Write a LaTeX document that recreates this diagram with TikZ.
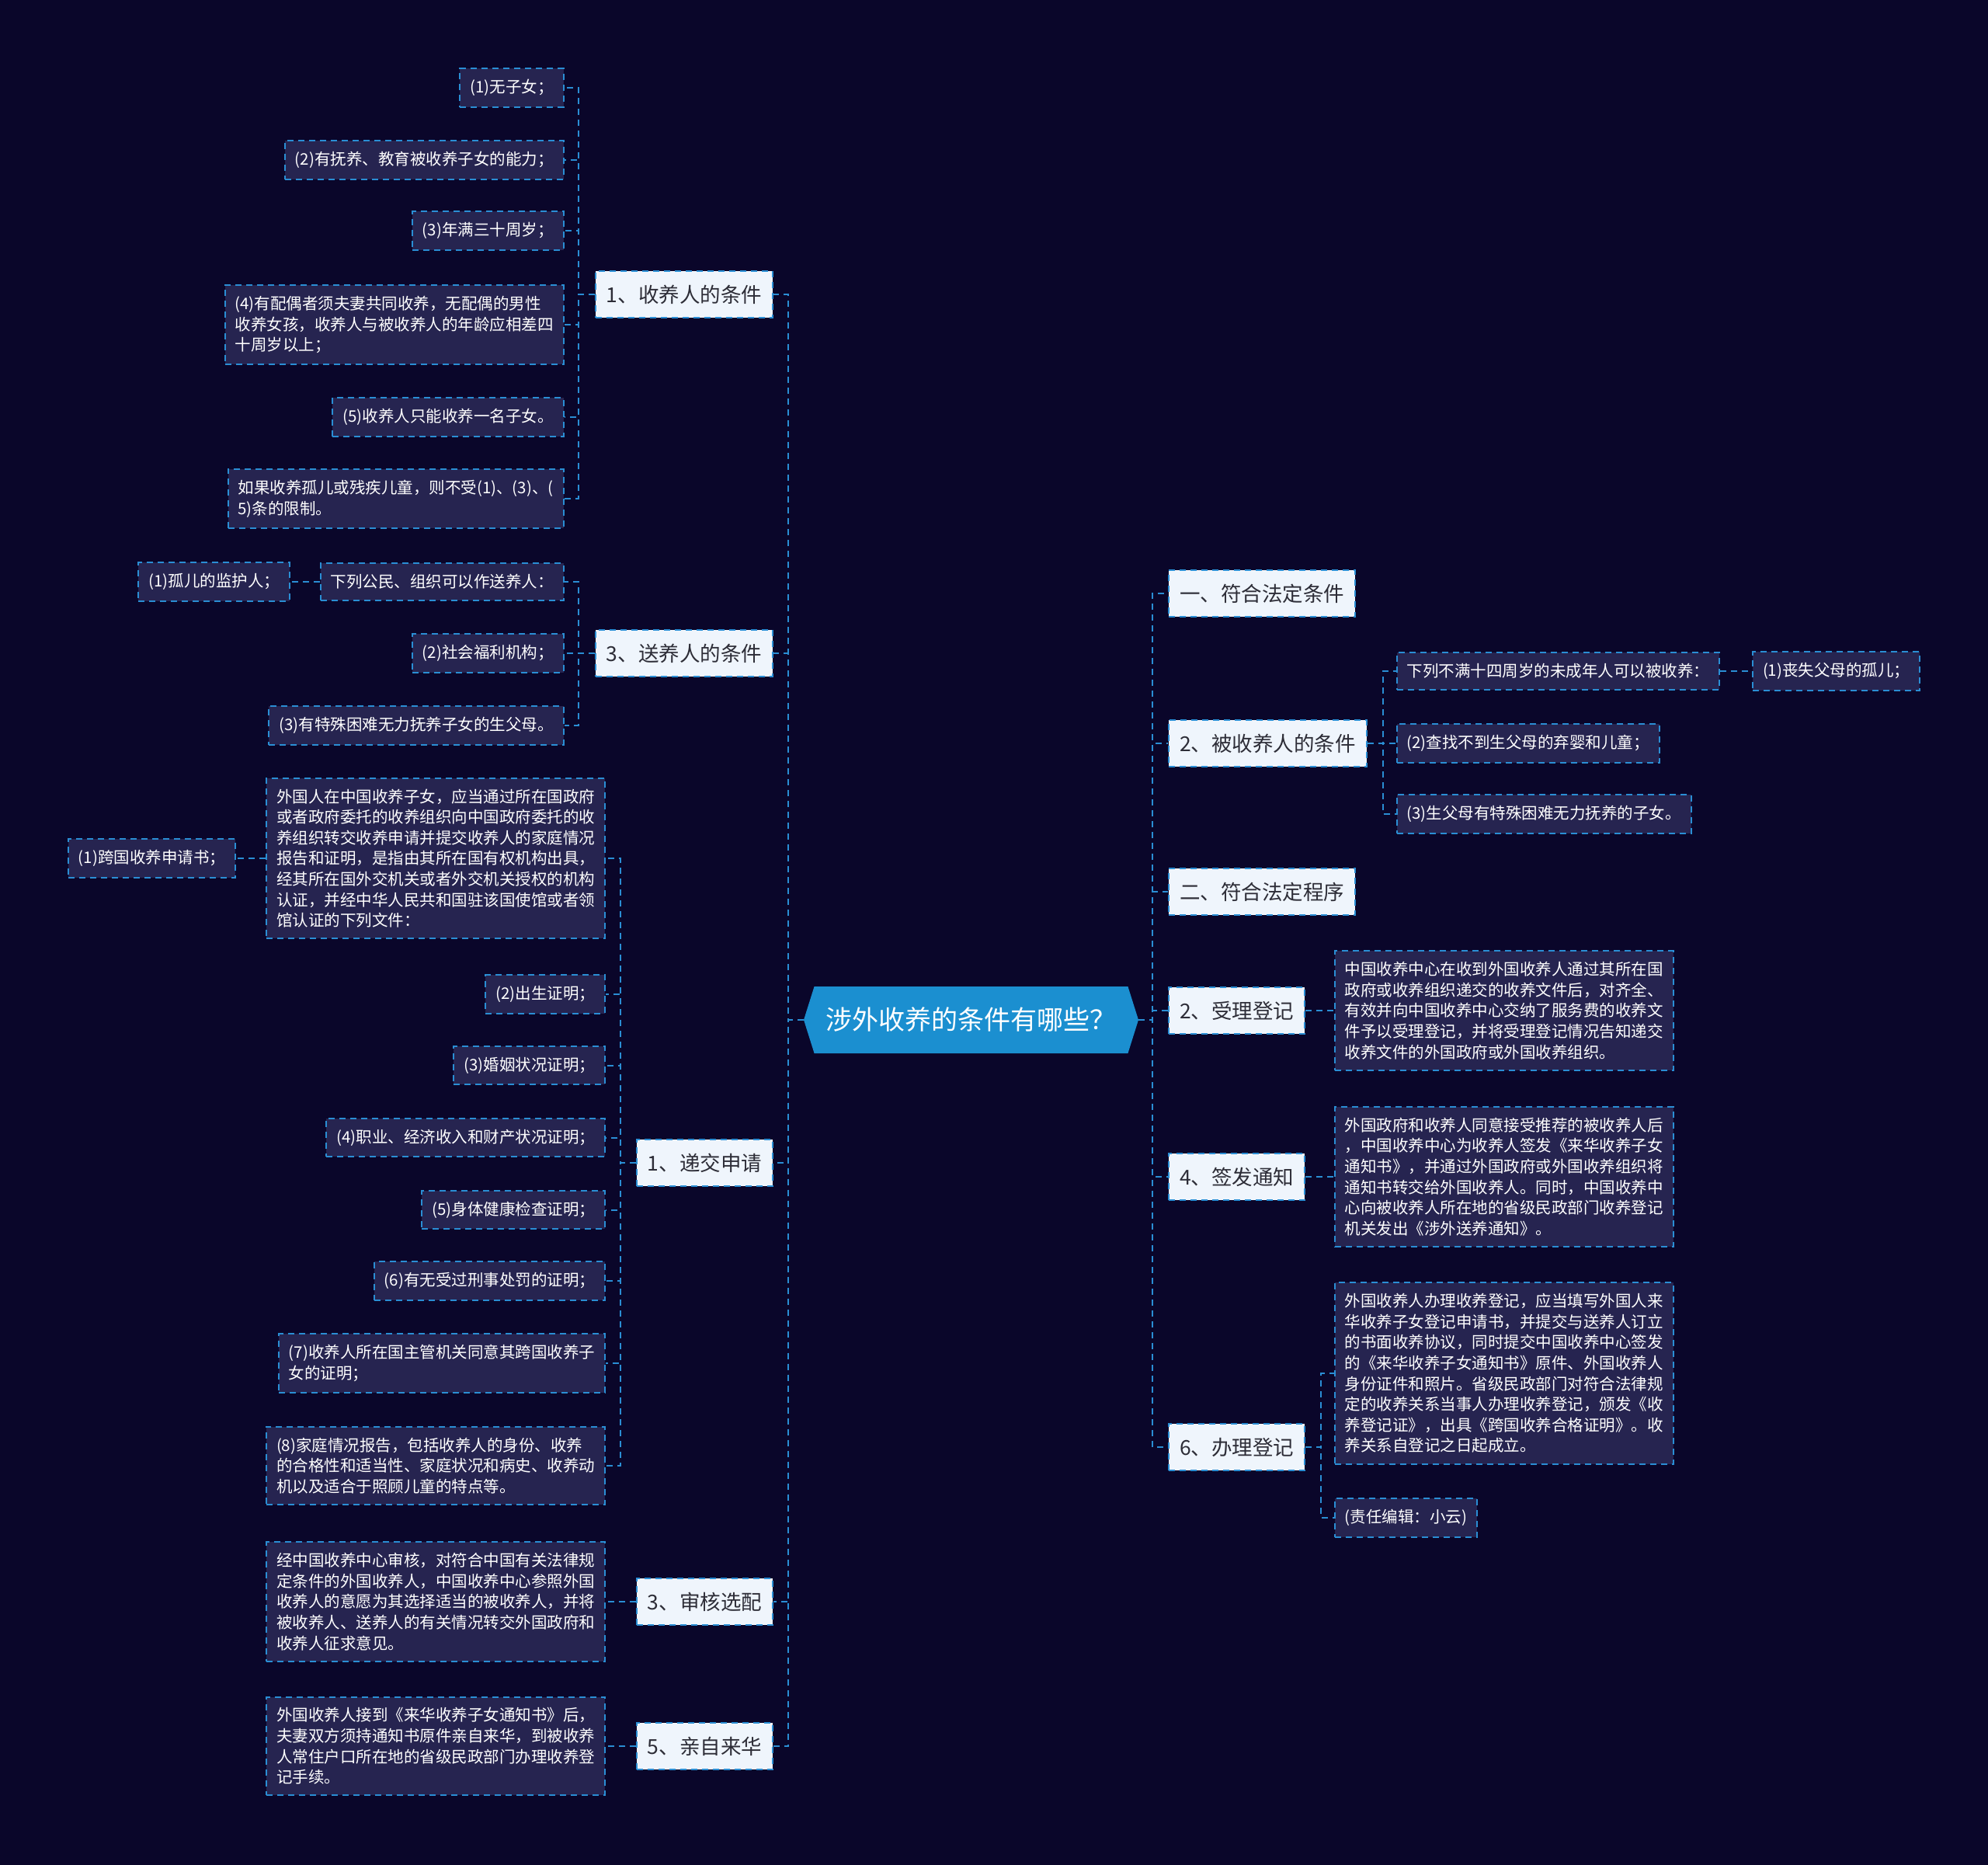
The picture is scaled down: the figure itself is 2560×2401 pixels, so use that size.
\documentclass[tikz,border=0pt]{standalone}
\usepackage{fontspec}
\setmainfont{Noto Sans CJK SC}
\usetikzlibrary{shapes.symbols}
\definecolor{bg}{RGB}{10,6,42}
\definecolor{leafc}{RGB}{38,36,80}
\definecolor{lonec}{RGB}{239,245,252}
\definecolor{edgec}{RGB}{42,142,212}
\definecolor{ctrc}{RGB}{27,143,208}
\definecolor{ltext}{RGB}{45,45,55}
\tikzset{
  dsh/.style={dash pattern=on 8pt off 6pt},
  leafbox/.style={draw=edgec, dsh, line width=2pt, fill=leafc, text=white,
    font=\fontsize{20.5}{26.6}\selectfont, align=left, inner xsep=13pt, inner ysep=14pt},
  onebox/.style={draw=edgec, dsh, line width=2pt, fill=lonec, text=ltext,
    font=\fontsize{26.5}{32}\selectfont, inner xsep=14pt, minimum height=60pt},
  conn/.style={draw=edgec, line width=2pt, dsh},
}
\begin{document}
\begin{tikzpicture}[x=1pt,y=-1pt]
\fill[bg] (0,0) rectangle (2560,2401);
\useasboundingbox (0,0) rectangle (2560,2401);

% center
\node[signal, signal to=west and east, signal pointer angle=145, fill=ctrc, text=white,
  font=\fontsize{34}{40}\selectfont, minimum width=431pt, minimum height=86pt, inner xsep=4pt]
  (c) at (1250.5,1313) {涉外收养的条件有哪些？};

% left level 1
\node[onebox, anchor=east] (a1) at (996,379) {1、收养人的条件};
\node[onebox, anchor=east] (a2) at (996,841) {3、送养人的条件};
\node[onebox, anchor=east] (a3) at (996,1497) {1、递交申请};
\node[onebox, anchor=east] (a4) at (996,2062) {3、审核选配};
\node[onebox, anchor=east] (a5) at (996,2248) {5、亲自来华};

% right level 1
\node[onebox, anchor=west] (b1) at (1504,764) {一、符合法定条件};
\node[onebox, anchor=west] (b2) at (1504,957) {2、被收养人的条件};
\node[onebox, anchor=west] (b3) at (1504,1148) {二、符合法定程序};
\node[onebox, anchor=west] (b4) at (1504,1301) {2、受理登记};
\node[onebox, anchor=west] (b5) at (1504,1515) {4、签发通知};
\node[onebox, anchor=west] (b6) at (1504,1863) {6、办理登记};

% group a1
\node[leafbox, anchor=east] (a1l1) at (726.5,113) {(1)无子女；};
\node[leafbox, anchor=east] (a1l2) at (726.5,206) {(2)有抚养、教育被收养子女的能力；};
\node[leafbox, anchor=east] (a1l3) at (726.5,297) {(3)年满三十周岁；};
\node[leafbox, anchor=east] (a1l4) at (726.5,418) {(4)有配偶者须夫妻共同收养，无配偶的男性\\收养女孩，收养人与被收养人的年龄应相差四\\十周岁以上；};
\node[leafbox, anchor=east] (a1l5) at (726.5,537) {(5)收养人只能收养一名子女。};
\node[leafbox, anchor=east] (a1l6) at (726.5,642) {如果收养孤儿或残疾儿童，则不受(1)、(3)、(\\5)条的限制。};

% group a2
\node[leafbox, anchor=east] (a2l1) at (726.5,749) {下列公民、组织可以作送养人：};
\node[leafbox, anchor=east] (a2l1c) at (374,749) {(1)孤儿的监护人；};
\node[leafbox, anchor=east] (a2l2) at (726.5,841) {(2)社会福利机构；};
\node[leafbox, anchor=east] (a2l3) at (726.5,934) {(3)有特殊困难无力抚养子女的生父母。};

% group a3
\node[leafbox, anchor=east] (a3l1) at (780,1105) {外国人在中国收养子女，应当通过所在国政府\\或者政府委托的收养组织向中国政府委托的收\\养组织转交收养申请并提交收养人的家庭情况\\报告和证明，是指由其所在国有权机构出具，\\经其所在国外交机关或者外交机关授权的机构\\认证，并经中华人民共和国驻该国使馆或者领\\馆认证的下列文件：};
\node[leafbox, anchor=east] (a3l1c) at (304,1105) {(1)跨国收养申请书；};
\node[leafbox, anchor=east] (a3l2) at (780,1280) {(2)出生证明；};
\node[leafbox, anchor=east] (a3l3) at (780,1371.5) {(3)婚姻状况证明；};
\node[leafbox, anchor=east] (a3l4) at (780,1464.5) {(4)职业、经济收入和财产状况证明；};
\node[leafbox, anchor=east] (a3l5) at (780,1557.6) {(5)身体健康检查证明；};
\node[leafbox, anchor=east] (a3l6) at (780,1649) {(6)有无受过刑事处罚的证明；};
\node[leafbox, anchor=east] (a3l7) at (780,1755) {(7)收养人所在国主管机关同意其跨国收养子\\女的证明；};
\node[leafbox, anchor=east] (a3l8) at (780,1887) {(8)家庭情况报告，包括收养人的身份、收养\\的合格性和适当性、家庭状况和病史、收养动\\机以及适合于照顾儿童的特点等。};

% group a4, a5
\node[leafbox, anchor=east] (a4l1) at (780,2062) {经中国收养中心审核，对符合中国有关法律规\\定条件的外国收养人，中国收养中心参照外国\\收养人的意愿为其选择适当的被收养人，并将\\被收养人、送养人的有关情况转交外国政府和\\收养人征求意见。};
\node[leafbox, anchor=east] (a5l1) at (780,2248) {外国收养人接到《来华收养子女通知书》后，\\夫妻双方须持通知书原件亲自来华，到被收养\\人常住户口所在地的省级民政部门办理收养登\\记手续。};

% group b2
\node[leafbox, anchor=west] (b2l1) at (1797.5,864) {下列不满十四周岁的未成年人可以被收养：};
\node[leafbox, anchor=west] (b2l1c) at (2256,864) {(1)丧失父母的孤儿；};
\node[leafbox, anchor=west] (b2l2) at (1797.5,957) {(2)查找不到生父母的弃婴和儿童；};
\node[leafbox, anchor=west] (b2l3) at (1797.5,1048) {(3)生父母有特殊困难无力抚养的子女。};

% group b4, b5
\node[leafbox, anchor=west] (b4l1) at (1717.6,1301) {中国收养中心在收到外国收养人通过其所在国\\政府或收养组织递交的收养文件后，对齐全、\\有效并向中国收养中心交纳了服务费的收养文\\件予以受理登记，并将受理登记情况告知递交\\收养文件的外国政府或外国收养组织。};
\node[leafbox, anchor=west] (b5l1) at (1717.6,1515) {外国政府和收养人同意接受推荐的被收养人后\\，中国收养中心为收养人签发《来华收养子女\\通知书》，并通过外国政府或外国收养组织将\\通知书转交给外国收养人。同时，中国收养中\\心向被收养人所在地的省级民政部门收养登记\\机关发出《涉外送养通知》。};

% group b6
\node[leafbox, anchor=west] (b6l1) at (1717.6,1768) {外国收养人办理收养登记，应当填写外国人来\\华收养子女登记申请书，并提交与送养人订立\\的书面收养协议，同时提交中国收养中心签发\\的《来华收养子女通知书》原件、外国收养人\\身份证件和照片。省级民政部门对符合法律规\\定的收养关系当事人办理收养登记，颁发《收\\养登记证》，出具《跨国收养合格证明》。收\\养关系自登记之日起成立。};
\node[leafbox, anchor=west] (b6l2) at (1717.6,1954) {(责任编辑：小云)};

% connectors: center to level 1
\foreach \n in {a1,a2,a3,a4,a5}
  \draw[conn] (c.west) -- ++(-19.5,0) |- (\n.east);
\foreach \n in {b1,b2,b3,b4,b5,b6}
  \draw[conn] (c.east) -- ++(18,0) |- (\n.west);

% group connectors
\foreach \n in {a1l1,a1l2,a1l3,a1l4,a1l5,a1l6}
  \draw[conn] (a1.west) -- ++(-21,0) |- (\n.east);
\foreach \n in {a2l1,a2l2,a2l3}
  \draw[conn] (a2.west) -- ++(-21,0) |- (\n.east);
\draw[conn] (a2l1.west) -- (a2l1c.east);
\foreach \n in {a3l1,a3l2,a3l3,a3l4,a3l5,a3l6,a3l7,a3l8}
  \draw[conn] (a3.west) -- ++(-20,0) |- (\n.east);
\draw[conn] (a3l1.west) -- (a3l1c.east);
\draw[conn] (a4.west) -- (a4l1.east);
\draw[conn] (a5.west) -- (a5l1.east);
\foreach \n in {b2l1,b2l2,b2l3}
  \draw[conn] (b2.east) -- ++(20,0) |- (\n.west);
\draw[conn] (b2l1.east) -- (b2l1c.west);
\draw[conn] (b4.east) -- (b4l1.west);
\draw[conn] (b5.east) -- (b5l1.west);
\foreach \n in {b6l1,b6l2}
  \draw[conn] (b6.east) -- ++(20,0) |- (\n.west);
\end{tikzpicture}
\end{document}
